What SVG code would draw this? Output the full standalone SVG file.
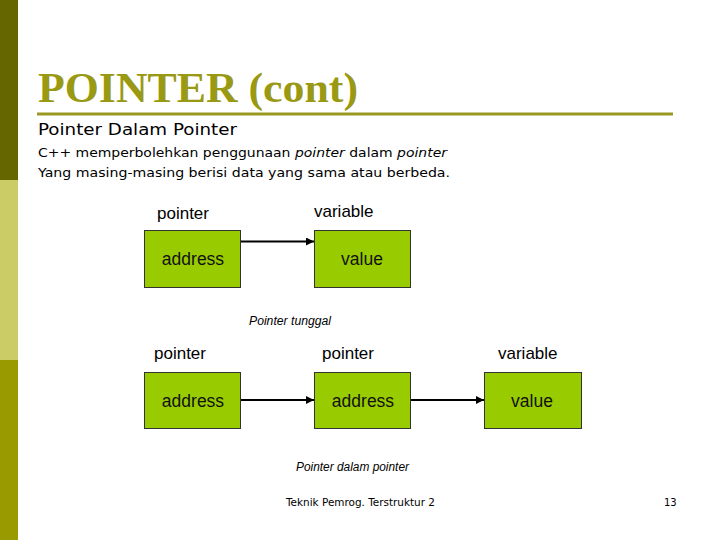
<svg xmlns="http://www.w3.org/2000/svg" width="720" height="540" viewBox="0 0 720 540">
<style>
.box{fill:#99cc00;stroke:#333;stroke-width:1}
.lbl{font-family:"Liberation Sans",Arial,sans-serif;font-size:17px;fill:#000}
.in{font-family:"Liberation Sans",Arial,sans-serif;font-size:17.5px;fill:#111;text-anchor:middle}
.cap{font-family:"Liberation Sans",Arial,sans-serif;font-size:12px;font-style:italic;fill:#000}
.body{font-family:"DejaVu Sans",Verdana,sans-serif;font-size:12px;fill:#000}
.conn{stroke:#000;stroke-width:2;fill:none}
</style>
<defs>
<marker id="ah" viewBox="0 0 10 10" refX="10" refY="5" markerWidth="4" markerHeight="4" orient="auto" markerUnits="strokeWidth">
<path d="M0,0 L10,5 L0,10 z" fill="#000"/>
</marker>
</defs>
<rect width="720" height="540" fill="#fff"/>
<rect x="0" y="0" width="18" height="180" fill="#666600"/>
<rect x="0" y="180" width="18" height="180" fill="#cccc66"/>
<rect x="0" y="360" width="18" height="180" fill="#999900"/>
<text x="38" y="102" font-family="'Liberation Serif','Times New Roman',serif" font-size="43" font-weight="bold" fill="#999914" textLength="320" lengthAdjust="spacingAndGlyphs">POINTER (cont)</text>
<rect x="37" y="112.5" width="636" height="3" fill="#999922"/>
<text x="38" y="135" font-family="'DejaVu Sans',Verdana,sans-serif" font-size="15" fill="#000" textLength="199" lengthAdjust="spacingAndGlyphs">Pointer Dalam Pointer</text>
<text class="body" x="38" y="157" textLength="409" lengthAdjust="spacingAndGlyphs">C++ memperbolehkan penggunaan <tspan font-style="italic">pointer</tspan> dalam <tspan font-style="italic">pointer</tspan></text>
<text class="body" x="38" y="177" textLength="412" lengthAdjust="spacingAndGlyphs">Yang masing-masing berisi data yang sama atau berbeda.</text>
<g id="connectors">
<line class="conn" x1="241" y1="241.5" x2="314" y2="241.5" marker-end="url(#ah)"/>
<line class="conn" x1="241" y1="400" x2="314" y2="400" marker-end="url(#ah)"/>
<line class="conn" x1="411" y1="400" x2="484" y2="400" marker-end="url(#ah)"/>
</g>
<g id="n1">
<text class="lbl" x="157" y="219">pointer</text>
<rect class="box" x="144.5" y="230.5" width="96" height="57"/>
<text class="in" x="193" y="265">address</text>
</g>
<g id="n2">
<text class="lbl" x="314" y="217">variable</text>
<rect class="box" x="314.5" y="230.5" width="96" height="57"/>
<text class="in" x="362" y="265">value</text>
</g>
<text class="cap" x="249" y="325" textLength="82" lengthAdjust="spacingAndGlyphs">Pointer tunggal</text>
<g id="n3">
<text class="lbl" x="154" y="359">pointer</text>
<rect class="box" x="144.5" y="372.5" width="96" height="56"/>
<text class="in" x="193" y="407">address</text>
</g>
<g id="n4">
<text class="lbl" x="322" y="359">pointer</text>
<rect class="box" x="314.5" y="372.5" width="96" height="56"/>
<text class="in" x="363" y="407">address</text>
</g>
<g id="n5">
<text class="lbl" x="498" y="359">variable</text>
<rect class="box" x="484.5" y="372.5" width="97" height="56"/>
<text class="in" x="532" y="407">value</text>
</g>
<text class="cap" x="296" y="471" textLength="113" lengthAdjust="spacingAndGlyphs">Pointer dalam pointer</text>
<text x="286" y="506" font-family="'DejaVu Sans',Verdana,sans-serif" font-size="10" fill="#000" textLength="149" lengthAdjust="spacingAndGlyphs">Teknik Pemrog. Terstruktur 2</text>
<text x="664" y="506" font-family="'DejaVu Sans',Verdana,sans-serif" font-size="10" fill="#000">13</text>
</svg>
